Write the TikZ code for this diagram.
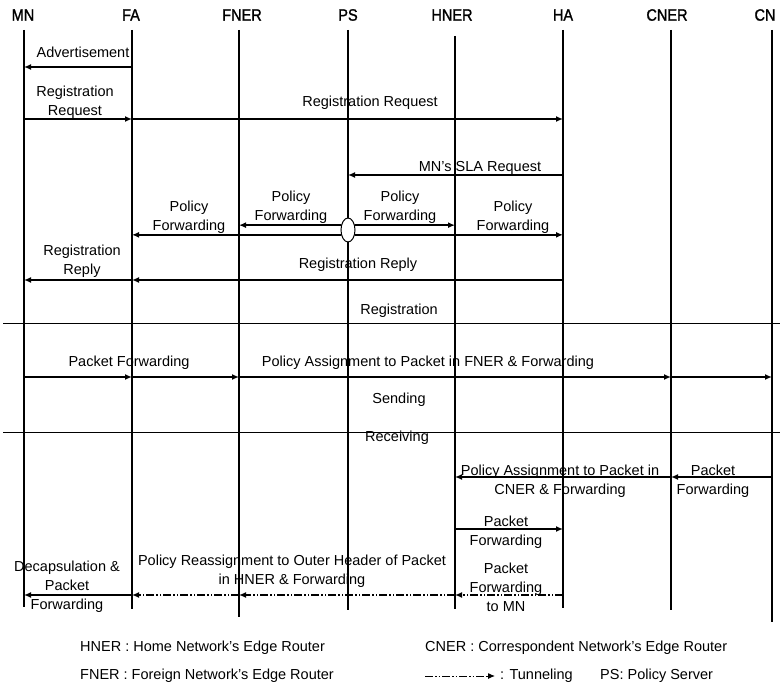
\documentclass[tikz,border=0pt]{standalone}
\usepackage{graphicx}
\usepackage{fontspec}
\setmainfont{Liberation Sans}
\newfontfamily\headfont{Liberation Sans}[FakeBold=1.5]
\usetikzlibrary{arrows.meta,shapes.geometric}

\newcommand{\headtext}[1]{\scalebox{0.88}[1]{#1}}

\begin{document}
\begin{tikzpicture}[x=1pt,y=-1pt,
  head/.style={font=\headfont\fontsize{16.5}{18}\selectfont, inner sep=0pt},
  lifeline/.style={line width=1.2pt},
  msg/.style={line width=1.4pt, -{Latex[length=7pt,width=6pt]}},
  tunnel/.style={msg, dash pattern=on 8pt off 2pt on 1.5pt off 2pt on 1.5pt off 2pt},
  lbl/.style={font=\fontsize{14.5}{19}\selectfont, inner sep=0pt, align=center},
  legend/.style={font=\fontsize{14.5}{18}\selectfont, inner sep=0pt, anchor=west},
  sep/.style={line width=0.9pt},
]
\useasboundingbox (0,0) rectangle (780,687);
\clip (0,0) rectangle (780,687);
\fill[white] (0,0) rectangle (780,687);

% lifeline x positions
\coordinate (MN) at (24,0);
\coordinate (FA) at (132,0);
\coordinate (FNER) at (239,0);
\coordinate (PS) at (348,0);
\coordinate (HNER) at (455,0);
\coordinate (HA) at (563,0);
\coordinate (CNER) at (671,0);
\coordinate (CN) at (772,0);

% message rows
\coordinate (adv) at (0,67);
\coordinate (regreq) at (0,119);
\coordinate (sla) at (0,175);
\coordinate (polrow) at (0,230);
\coordinate (regrep) at (0,280);
\coordinate (sepA) at (0,323);
\coordinate (pkt) at (0,377);
\coordinate (sepB) at (0,432);
\coordinate (rcv) at (0,477);
\coordinate (hfw) at (0,529);
\coordinate (tun) at (0,595);
\coordinate (sepL) at (3,0);
\coordinate (sepR) at (780,0);

% entity headers
\node[head] (h-MN) at (23,15) {\headtext{MN}};
\node[head] (h-FA) at (131,15) {\headtext{FA}};
\node[head] (h-FNER) at (242,15) {\headtext{FNER}};
\node[head] (h-PS) at (348,15) {\headtext{PS}};
\node[head] (h-HNER) at (452,15) {\headtext{HNER}};
\node[head] (h-HA) at (563,15) {\headtext{HA}};
\node[head] (h-CNER) at (667,15) {\headtext{CNER}};
\node[head] (h-CN) at (765,15) {\headtext{CN}};

% lifelines
\coordinate (MN-t) at (24,30);   \coordinate (MN-b) at (24,607);
\coordinate (FA-t) at (132,30);  \coordinate (FA-b) at (132,609);
\coordinate (FNER-t) at (239,30); \coordinate (FNER-b) at (239,617);
\coordinate (PS-t) at (348,30);  \coordinate (PS-b) at (348,610);
\coordinate (HNER-t) at (455,36); \coordinate (HNER-b) at (455,609);
\coordinate (HA-t) at (563,30);  \coordinate (HA-b) at (563,608);
\coordinate (CNER-t) at (671,30); \coordinate (CNER-b) at (671,610);
\coordinate (CN-t) at (772,30);  \coordinate (CN-b) at (772,622);
\foreach \n in {MN,FA,FNER,PS,HNER,HA,CNER,CN}
  \draw[lifeline] (\n-t) -- (\n-b);

% phase separators
\draw[sep] (sepL |- sepA) -- (sepR |- sepA);
\draw[sep] (sepL |- sepB) -- (sepR |- sepB);

% registration phase
\draw[msg] (FA |- adv) -- (MN |- adv);
\node[lbl] (l-adv) at (83,52) {Advertisement};

\draw[msg] (MN |- regreq) -- (FA |- regreq);
\node[lbl] (l-rq1) at (75,102) {Registration\\Request};
\draw[msg] (FA |- regreq) -- (HA |- regreq);
\node[lbl] (l-rq2) at (370,103) {Registration Request};

\draw[msg] (HA |- sla) -- (PS |- sla);
\node[lbl] (l-sla) at (480,168) {MN's SLA Request};

\node[ellipse, draw, fill=white, line width=1pt, minimum width=14pt,
      minimum height=24pt, inner sep=0pt] (pol) at (PS |- polrow) {};
\draw[msg] (pol.145) -- (FNER |- pol.145);
\draw[msg] (pol.215) -- (FA |- pol.215);
\draw[msg] (pol.35) -- (HNER |- pol.35);
\draw[msg] (pol.325) -- (HA |- pol.325);
\node[lbl] (l-pf1) at (291,207) {Policy\\Forwarding};
\node[lbl] (l-pf2) at (189,217) {Policy\\Forwarding};
\node[lbl] (l-pf3) at (400,207) {Policy\\Forwarding};
\node[lbl] (l-pf4) at (513,217) {Policy\\Forwarding};

\draw[msg] (HA |- regrep) -- (FA |- regrep);
\node[lbl] (l-rp2) at (358,265) {Registration Reply};
\draw[msg] (FA |- regrep) -- (MN |- regrep);
\node[lbl] (l-rp1) at (82,261) {Registration\\Reply};

\node[lbl] (l-reg) at (399,311) {Registration};

% sending phase
\draw[msg] (MN |- pkt) -- (FA |- pkt);
\draw[msg] (FA |- pkt) -- (FNER |- pkt);
\node[lbl] (l-pkt) at (129,363) {Packet Forwarding};
\draw[msg] (FNER |- pkt) -- (CNER |- pkt);
\draw[msg] (CNER |- pkt) -- (CN |- pkt);
\node[lbl] (l-pa) at (428,363) {Policy Assignment to Packet in FNER \& Forwarding};

\node[lbl] (l-snd) at (399,400) {Sending};
\node[lbl] (l-rcv) at (397,438) {Receiving};

% receiving phase
\draw[msg] (CN |- rcv) -- (CNER |- rcv);
\node[lbl] (l-cnf) at (713,481) {Packet\\Forwarding};
\draw[msg] (CNER |- rcv) -- (HNER |- rcv);
\node[lbl] (l-cpa) at (560,481) {Policy Assignment to Packet in\\CNER \& Forwarding};

\draw[msg] (HNER |- hfw) -- (HA |- hfw);
\node[lbl] (l-hfw) at (506,532) {Packet\\Forwarding};

\draw[tunnel] (HA |- tun) -- (HNER |- tun);
\node[lbl] (l-tmn) at (506,587) {Packet\\Forwarding\\to MN};
\draw[tunnel] (HNER |- tun) -- (FNER |- tun);
\draw[tunnel] (FNER |- tun) -- (FA |- tun);
\node[lbl] (l-rea) at (292,571) {Policy Reassignment to Outer Header of Packet\\in HNER \& Forwarding};
\draw[msg] (FA |- tun) -- (MN |- tun);
\node[lbl] (l-dec) at (67,587) {Decapsulation \&\\Packet\\Forwarding};

% legend
\node[legend] (g-hner) at (80,648) {HNER : Home Network's Edge Router};
\node[legend] (g-fner) at (80,676) {FNER : Foreign Network's Edge Router};
\node[legend] (g-cner) at (425,648) {CNER : Correspondent Network's Edge Router};
\coordinate (g-t1) at (425,676);
\coordinate (g-t2) at (495,676);
\draw[tunnel, line width=1pt] (g-t1) -- (g-t2);
\node[legend] (g-tun) at (500,676) {: Tunneling};
\node[legend] (g-ps) at (600,676) {PS: Policy Server};
\end{tikzpicture}
\end{document}
